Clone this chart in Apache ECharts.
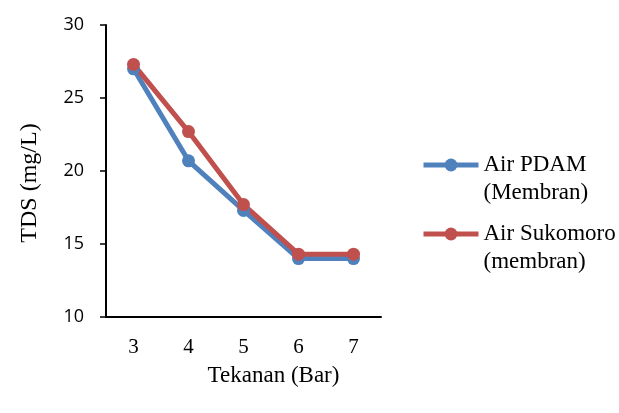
<!DOCTYPE html>
<html><head><meta charset="utf-8">
<script src="https://cdn.jsdelivr.net/npm/echarts@6/dist/echarts.min.js"></script>
<style>html,body{margin:0;padding:0;background:#fff}#c{width:619px;height:413px}</style>
</head><body><div id="c"></div>
<script>
var categories = ['3', '4', '5', '6', '7'];
var pdam = [27.0, 20.7, 17.3, 14.0, 14.0];
var sukomoro = [27.3, 22.7, 17.7, 14.3, 14.3];
var seriesNames = ['Air PDAM', 'Air Sukomoro'];
var legendSecondLines = ['(Membran)', '(membran)'];
var yMin = 10, yMax = 30, yStep = 5;

var serif = '"Liberation Serif","Times New Roman",serif';
var chart = echarts.init(document.getElementById('c'), null, {renderer: 'canvas'});
function legendCfg(i, top) {
  return {
    data: [seriesNames[i]], left: 421, top: top, padding: 0,
    itemWidth: 55, itemHeight: 16, itemGap: 4,
    lineStyle: {width: 5},
    formatter: function (n) { return ' \n' + n + '\n' + legendSecondLines[i]; },
    textStyle: {fontFamily: serif, fontSize: 23, color: '#000', lineHeight: 28}
  };
}
chart.setOption({
  animation: false,
  grid: {left: 106, right: 238, top: 25, bottom: 96, containLabel: false},
  legend: [legendCfg(0, 165 - 42), legendCfg(1, 234 - 42)],
  xAxis: {
    type: 'category', data: categories, boundaryGap: true,
    name: 'Tekanan (Bar)', nameLocation: 'middle', nameGap: 47,
    nameTextStyle: {fontFamily: serif, fontSize: 23, color: '#000', padding: [0, 0, 0, 60]},
    axisLine: {lineStyle: {color: '#000', width: 2}},
    axisTick: {show: false},
    axisLabel: {fontFamily: serif, fontSize: 21, color: '#000', margin: 20}
  },
  yAxis: {
    type: 'value', min: yMin, max: yMax, interval: yStep,
    name: 'TDS (mg/L)', nameLocation: 'middle', nameGap: 64,
    nameTextStyle: {fontFamily: serif, fontSize: 24, color: '#000', padding: [0, 24, 0, 0]},
    axisLine: {show: true, lineStyle: {color: '#000', width: 2}},
    axisTick: {show: true, length: 6, lineStyle: {color: '#000', width: 1.5}},
    splitLine: {show: false},
    axisLabel: {fontFamily: '"Open Sans","Liberation Sans",sans-serif', fontSize: 18, color: '#000', margin: 22}
  },
  series: [
    {name: seriesNames[0], type: 'line', data: pdam, symbol: 'circle', symbolSize: 13,
     lineStyle: {width: 5, color: '#4F81BD'}, itemStyle: {color: '#4F81BD'}},
    {name: seriesNames[1], type: 'line', data: sukomoro, symbol: 'circle', symbolSize: 13,
     lineStyle: {width: 5, color: '#C0504D'}, itemStyle: {color: '#C0504D'}}
  ]
});
</script></body></html>
